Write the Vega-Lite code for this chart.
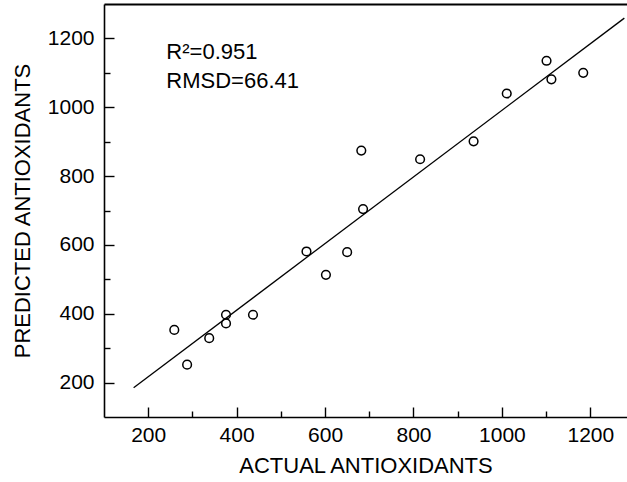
{
  "$schema": "https://vega.github.io/schema/vega-lite/v6.json",
  "width": 523,
  "height": 413,
  "autosize": {"type": "none"},
  "padding": {"left": 104, "top": 4, "right": 0, "bottom": 65},
  "background": "white",
  "config": {
    "view": {"stroke": null},
    "font": "Liberation Sans",
    "axis": {
      "grid": false,
      "domainColor": "black",
      "domainWidth": 1.6,
      "tickColor": "black",
      "tickWidth": 1.4,
      "labelColor": "black",
      "labelFont": "Liberation Sans",
      "labelFontSize": 21,
      "titleFont": "Liberation Sans",
      "titleFontSize": 22,
      "titleFontWeight": "normal",
      "titleColor": "black"
    }
  },
  "datasets": {
    "points": [
      {"actual": 259, "predicted": 353},
      {"actual": 288, "predicted": 252},
      {"actual": 338, "predicted": 329},
      {"actual": 376, "predicted": 397},
      {"actual": 376, "predicted": 372},
      {"actual": 437, "predicted": 397},
      {"actual": 558, "predicted": 581},
      {"actual": 602, "predicted": 513},
      {"actual": 650, "predicted": 579},
      {"actual": 682, "predicted": 874},
      {"actual": 686, "predicted": 704},
      {"actual": 815, "predicted": 849},
      {"actual": 936, "predicted": 901},
      {"actual": 1011, "predicted": 1040},
      {"actual": 1101, "predicted": 1135},
      {"actual": 1112, "predicted": 1081},
      {"actual": 1184, "predicted": 1100}
    ],
    "fit": [
      {"actual": 167, "predicted": 185},
      {"actual": 1277, "predicted": 1259}
    ],
    "notes": [
      {"actual": 241, "predicted": 1160, "label": "R²=0.951"},
      {"actual": 241, "predicted": 1076, "label": "RMSD=66.41"}
    ]
  },
  "resolve": {"axis": {"x": "independent", "y": "independent"}},
  "layer": [
    {
      "data": {"name": "points"},
      "mark": {"type": "point", "shape": "circle", "filled": false, "color": "black", "strokeWidth": 1.5, "size": 75, "opacity": 1},
      "encoding": {
        "x": {
          "field": "actual", "type": "quantitative",
          "scale": {"domain": [100, 1283], "nice": false, "zero": false},
          "axis": {
            "title": "ACTUAL ANTIOXIDANTS",
            "values": [200, 300, 400, 500, 600, 700, 800, 900, 1000, 1100, 1200],
            "labelExpr": "datum.value % 200 === 0 ? datum.label : ''",
            "format": "d",
            "tickSize": {"condition": {"test": "datum.value % 200 === 0", "value": -10}, "value": -6},
            "labelPadding": 17,
            "titlePadding": 10
          }
        },
        "y": {
          "field": "predicted", "type": "quantitative",
          "scale": {"domain": [100, 1300], "nice": false, "zero": false},
          "axis": {
            "title": "PREDICTED  ANTIOXIDANTS",
            "values": [200, 300, 400, 500, 600, 700, 800, 900, 1000, 1100, 1200],
            "labelExpr": "datum.value % 200 === 0 ? datum.label : ''",
            "format": "d",
            "tickSize": {"condition": {"test": "datum.value % 200 === 0", "value": -10}, "value": -6},
            "labelPadding": 20,
            "titlePadding": 13
          }
        }
      }
    },
    {
      "data": {"name": "fit"},
      "mark": {"type": "line", "color": "black", "strokeWidth": 1.3},
      "encoding": {
        "x": {"field": "actual", "type": "quantitative", "axis": {"orient": "top", "title": null, "labels": false, "ticks": false, "domainWidth": 2}},
        "y": {"field": "predicted", "type": "quantitative", "axis": null}
      }
    },
    {
      "data": {"name": "notes"},
      "mark": {"type": "text", "align": "left", "baseline": "middle", "fontSize": 22, "color": "black", "font": "Liberation Sans"},
      "encoding": {
        "x": {"field": "actual", "type": "quantitative", "axis": null},
        "y": {"field": "predicted", "type": "quantitative", "axis": null},
        "text": {"field": "label"}
      }
    }
  ]
}
